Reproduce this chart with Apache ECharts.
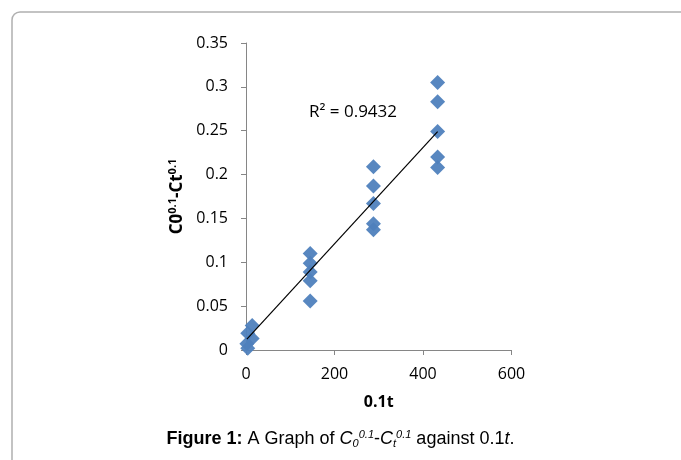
<!DOCTYPE html>
<html>
<head>
<meta charset="utf-8">
<script src="https://cdn.jsdelivr.net/npm/echarts@6/dist/echarts.min.js"></script>
<style>
html,body{margin:0;padding:0;background:#fff;}
#chart{width:681px;height:460px;}
</style>
</head>
<body>
<div id="chart"></div>
<script>
// Data
const xValues = [14, 4, 14, 2, 4,
                 145, 145, 145, 145, 145,
                 288, 288, 288, 288, 288,
                 433, 433, 433, 433, 433];
const yValues = [0.028, 0.019, 0.013, 0.007, 0.002,
                 0.110, 0.099, 0.089, 0.079, 0.056,
                 0.209, 0.187, 0.167, 0.144, 0.137,
                 0.305, 0.283, 0.249, 0.220, 0.208];
const trendX = [2, 433];
const trendY = [0.0125, 0.249];
const xTicks = [0, 200, 400, 600];
const yTicks = [0, 0.05, 0.1, 0.15, 0.2, 0.25, 0.3, 0.35];
const r2Text = 'R² = 0.9432';

const chart = echarts.init(document.getElementById('chart'));
const tickFont = 'Open Sans, Liberation Sans, sans-serif';
const axisColor = '#868686';

const option = {
  animation: false,
  grid: {left: 246, right: 169.5, top: 43, bottom: 110},
  graphic: [
    {type: 'rect', left: 9.5, top: 9.5, shape: {width: 700, height: 500, r: 8},
     style: {fill: 'none', stroke: '#b0b0b0', lineWidth: 1.5}, z: -1},
    {type: 'text', left: 309, top: 104,
     style: {text: r2Text, font: '17px ' + tickFont, fill: '#000'}},
    {type: 'text', left: 'center', top: 429,
     style: {
       text: '{b|Figure 1:} A Graph of {i|C}{sub|0}{sup|0.1}-{i|C}{sub|t}{sup|0.1} against 0.1{i|t}.',
       font: '18px Liberation Sans, Arial, sans-serif', fill: '#000',
       rich: {
         b: {fontWeight: 'bold', fontSize: 18, fontFamily: 'Liberation Sans'},
         i: {fontStyle: 'italic', fontSize: 18, fontFamily: 'Liberation Sans'},
         sub: {fontStyle: 'italic', fontSize: 11, fontFamily: 'Liberation Sans', verticalAlign: 'bottom', padding: [9, 0, 0, 0]},
         sup: {fontStyle: 'italic', fontSize: 11, fontFamily: 'Liberation Sans', verticalAlign: 'top', padding: [0, 0, 9, 0]}
       }
     }}
  ],
  xAxis: {
    type: 'value', min: xTicks[0], max: xTicks[xTicks.length - 1], interval: 200,
    name: '0.1t', nameLocation: 'middle', nameGap: 44,
    nameTextStyle: {fontWeight: 'bold', fontSize: 16, fontFamily: tickFont, color: '#000'},
    axisLine: {show: true, onZero: false, lineStyle: {color: axisColor, width: 1}},
    axisTick: {show: true, length: 5, inside: false, lineStyle: {color: axisColor}},
    axisLabel: {fontSize: 16, fontFamily: tickFont, color: '#000', margin: 16},
    splitLine: {show: false}
  },
  yAxis: {
    type: 'value', min: yTicks[0], max: yTicks[yTicks.length - 1], interval: 0.05,
    name: '{m|C0}{s|0.1}{m|-Ct}{s|0.1}', nameLocation: 'middle', nameGap: 59, nameRotate: 90,
    nameTextStyle: {
      color: '#000',
      rich: {
        m: {fontWeight: 'bold', fontSize: 17, fontFamily: tickFont, color: '#000'},
        s: {fontWeight: 'bold', fontSize: 11, fontFamily: tickFont, color: '#000', verticalAlign: 'top', padding: [0, 0, 9, 0]}
      }
    },
    axisLine: {show: true, onZero: false, lineStyle: {color: axisColor, width: 1}},
    axisTick: {show: true, length: 5, inside: false, lineStyle: {color: axisColor}},
    axisLabel: {fontSize: 16, fontFamily: tickFont, color: '#000', margin: 18,
      formatter: v => String(Math.round(v * 100) / 100)},
    splitLine: {show: false}
  },
  series: [
    {
      type: 'scatter',
      data: xValues.map((x, i) => [x, yValues[i]]),
      symbol: 'diamond', symbolSize: [15, 15],
      itemStyle: {color: '#4F81BD', opacity: 0.95},
      z: 2
    },
    {
      type: 'line',
      data: trendX.map((x, i) => [x, trendY[i]]),
      showSymbol: false, symbol: 'none',
      lineStyle: {color: '#000', width: 1.2},
      z: 3
    }
  ]
};
chart.setOption(option);
</script>
</body>
</html>
